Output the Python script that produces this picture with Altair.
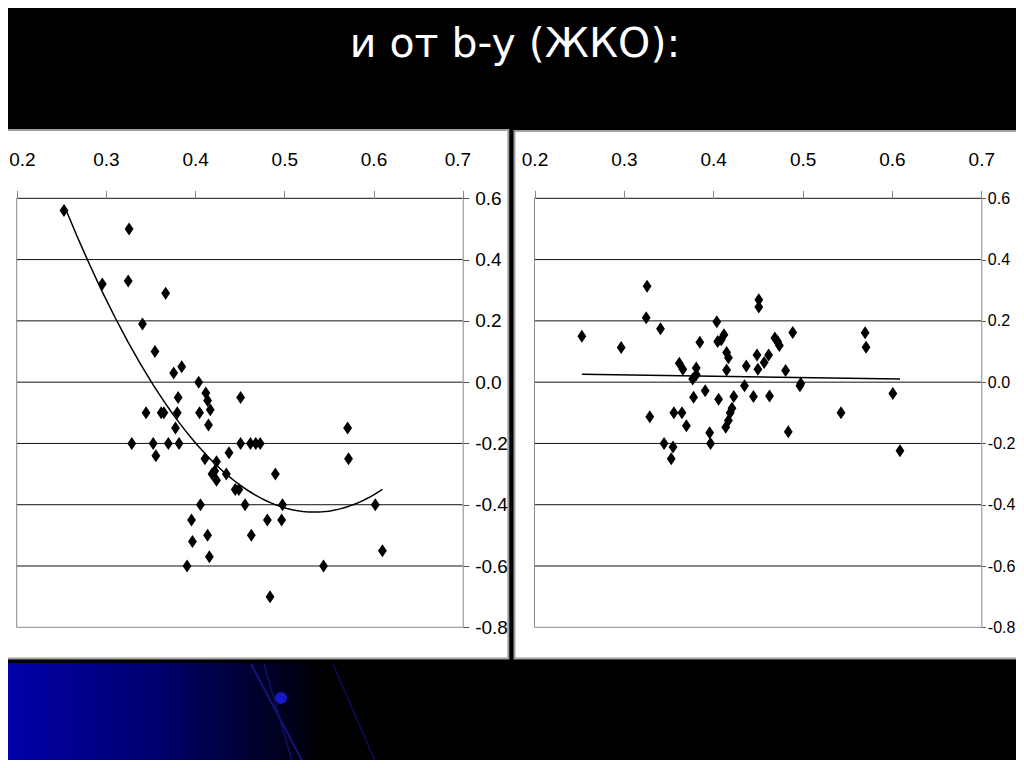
import altair as alt
import pandas as pd

# ---------------- data ----------------
left_x = [0.253, 0.326, 0.296, 0.325, 0.367, 0.341, 0.355, 0.376, 0.385, 0.404,
          0.381, 0.412, 0.414, 0.417, 0.451, 0.345, 0.362, 0.365, 0.380, 0.405,
          0.415, 0.378, 0.329, 0.353, 0.370, 0.382, 0.451, 0.462, 0.468, 0.473,
          0.356, 0.411, 0.424, 0.438, 0.419, 0.422, 0.424, 0.435, 0.445, 0.449,
          0.490, 0.406, 0.456, 0.498, 0.396, 0.481, 0.497, 0.414, 0.463, 0.397,
          0.416, 0.391, 0.484, 0.571, 0.572, 0.602, 0.610, 0.544]
left_y = [0.56, 0.50, 0.32, 0.33, 0.29, 0.19, 0.10, 0.03, 0.05, 0.00,
          -0.05, -0.035, -0.06, -0.09, -0.05, -0.10, -0.10, -0.10, -0.10, -0.10,
          -0.14, -0.15, -0.20, -0.20, -0.20, -0.20, -0.20, -0.20, -0.20, -0.20,
          -0.24, -0.25, -0.26, -0.23, -0.30, -0.29, -0.32, -0.30, -0.35, -0.35,
          -0.30, -0.40, -0.40, -0.40, -0.45, -0.45, -0.45, -0.50, -0.50, -0.52,
          -0.57, -0.60, -0.70, -0.15, -0.25, -0.40, -0.55, -0.60]

right_x = [0.253, 0.297, 0.326, 0.325, 0.341, 0.385, 0.404, 0.405, 0.409, 0.412,
           0.415, 0.417, 0.415, 0.451, 0.451, 0.449, 0.437, 0.457, 0.462, 0.450,
           0.469, 0.472, 0.474, 0.489, 0.481, 0.497, 0.498, 0.362, 0.366, 0.381,
           0.377, 0.381, 0.435, 0.391, 0.378, 0.406, 0.423, 0.421, 0.419, 0.417,
           0.414, 0.445, 0.463, 0.329, 0.356, 0.365, 0.370, 0.396, 0.484, 0.345,
           0.355, 0.397, 0.353, 0.543, 0.601, 0.609, 0.570, 0.571]
right_y = [0.150, 0.113, 0.313, 0.210, 0.174, 0.130, 0.197, 0.133, 0.138, 0.155,
           0.097, 0.080, 0.040, 0.269, 0.245, 0.089, 0.053, 0.064, 0.089, 0.042,
           0.144, 0.133, 0.120, 0.162, 0.038, -0.012, -0.004, 0.062, 0.042, 0.046,
           0.010, 0.024, -0.012, -0.028, -0.049, -0.056, -0.047, -0.085, -0.100, -0.125,
           -0.147, -0.047, -0.045, -0.113, -0.100, -0.100, -0.142, -0.165, -0.162, -0.200,
           -0.212, -0.200, -0.250, -0.100, -0.037, -0.224, 0.161, 0.114]

x_ticks = [0.2, 0.3, 0.4, 0.5, 0.6, 0.7]
y_ticks = [-0.8, -0.6, -0.4, -0.2, 0.0, 0.2, 0.4, 0.6]
title_text = "и от b-y (ЖКО):"

# ---------------- layout / styling ----------------
W, H = 1008, 752                     # whole slide (page minus 8px margin)
PLOT_TOP, PLOT_BOTTOM = 190.3, 619.3
LEFT_RANGE = [8.7, 454.7]
RIGHT_RANGE = [526.5, 973.3]
LABEL_FONT = "Liberation Sans Narrow, Liberation Sans, Arial"
DIAMOND = "M0,-1L0.68,0L0,1L-0.68,0Z"
one = pd.DataFrame({"k": [0]})
neg_label = "datum.value < 0 ? '-' + format(-datum.value, '.1f') : format(datum.value, '.1f')"


def panel(xs, ys, method, order, xrange, x_flush, y_size, y_pad, y_tick):
    df = pd.DataFrame({"x": xs, "y": ys})
    grid_df = pd.DataFrame({"v": y_ticks, "x0": x_ticks[0], "x1": x_ticks[-1]})
    border_df = pd.DataFrame({"bx": [x_ticks[0]], "b0": [y_ticks[0]], "b1": [y_ticks[-1]]})
    xscale = alt.Scale(domain=[x_ticks[0], x_ticks[-1]], range=xrange, nice=False, zero=False)
    yscale = alt.Scale(domain=[y_ticks[0], y_ticks[-1]], range=[PLOT_BOTTOM, PLOT_TOP],
                       nice=False, zero=False)
    xaxis_kw = dict(orient="top", offset=-PLOT_TOP, values=x_ticks, format=".1f",
                    title=None, grid=False, domain=False, ticks=True,
                    tickColor="#888888", tickSize=8, labelPadding=21,
                    labelFont=LABEL_FONT, labelFontSize=19, labelColor="black",
                    zindex=1)
    if x_flush:
        xaxis_kw.update(labelFlush=True, labelFlushOffset=8)
    else:
        xaxis_kw.update(labelFlush=False)
    xaxis = alt.Axis(**xaxis_kw)
    yaxis = alt.Axis(orient="right", offset=xrange[1] - W, values=y_ticks,
                     labelExpr=neg_label, title=None, grid=False,
                     domain=True, domainColor="#888888", tickColor="#555555",
                     tickSize=y_tick, labelPadding=y_pad, labelFont=LABEL_FONT,
                     labelFontSize=y_size, labelColor="black", labelFlush=False,
                     zindex=1)
    grid = alt.Chart(grid_df).mark_rule(strokeWidth=1).encode(
        x=alt.X("x0:Q", scale=xscale, axis=xaxis),
        x2="x1:Q",
        y=alt.Y("v:Q", scale=yscale, axis=yaxis),
        color=alt.condition(alt.datum.v < -0.7, alt.value("#888888"), alt.value("#111111")))
    border = alt.Chart(border_df).mark_rule(color="#888888", strokeWidth=1).encode(
        x=alt.X("bx:Q", scale=xscale, axis=xaxis),
        y=alt.Y("b0:Q", scale=yscale, axis=yaxis),
        y2="b1:Q")
    pts = alt.Chart(df).mark_point(shape=DIAMOND, filled=True, color="black",
                                   opacity=1, size=169).encode(
        x=alt.X("x:Q", scale=xscale, axis=xaxis),
        y=alt.Y("y:Q", scale=yscale, axis=yaxis))
    reg = alt.Chart(df).transform_regression(
        "x", "y", method=method, order=order).mark_line(
        color="black", strokeWidth=1.5).encode(
        x=alt.X("x:Q", scale=xscale, axis=xaxis),
        y=alt.Y("y:Q", scale=yscale, axis=yaxis))
    return alt.layer(grid, border, pts, reg)


left = panel(left_x, left_y, "poly", 2, LEFT_RANGE, True, 19, 6, 6)
right = panel(right_x, right_y, "linear", 1, RIGHT_RANGE, False, 16, 2, 4)

# ---------------- slide decoration ----------------
def box(x0, x1, y0, y1):
    return alt.Chart(one).mark_rect(fill="white", stroke="#a0a0a0", strokeWidth=2).encode(
        x=alt.value(x0), x2=alt.value(x1), y=alt.value(y0), y2=alt.value(y1))


bg_left = box(-2, 500.3, 122, 650.5)
bg_right = box(506.5, 1014, 123, 650.5)

title = alt.Chart(one).mark_text(
    text=title_text, font="DejaVu Sans", fontSize=41, color="white",
    align="center", baseline="middle").encode(
    x=alt.value(507), y=alt.value(37))

swoosh = alt.Chart(one).mark_rect(
    fill=alt.LinearGradient(
        gradient="linear", x1=0, y1=0, x2=1, y2=0,
        stops=[alt.GradientStop(color="#0000aa", offset=0),
               alt.GradientStop(color="#000070", offset=0.45),
               alt.GradientStop(color="#000000", offset=1)])).encode(
    x=alt.value(0), x2=alt.value(322), y=alt.value(655), y2=alt.value(760))
streak1 = alt.Chart(one).mark_rule(color="#14147a", strokeWidth=2).encode(
    x=alt.value(243), x2=alt.value(298), y=alt.value(656), y2=alt.value(760))
streak2 = alt.Chart(one).mark_rule(color="#101068", strokeWidth=1.5).encode(
    x=alt.value(256), x2=alt.value(286), y=alt.value(656), y2=alt.value(760))
streak3 = alt.Chart(one).mark_rule(color="#0c0c58", strokeWidth=1.5).encode(
    x=alt.value(325), x2=alt.value(370), y=alt.value(656), y2=alt.value(760))
dot = alt.Chart(one).mark_point(filled=True, color="#1818c8", opacity=1, size=144,
                                shape="circle").encode(
    x=alt.value(273), y=alt.value(690))

chart = alt.layer(
    swoosh, streak1, streak2, streak3, dot, bg_left, bg_right, title, left, right
).resolve_scale(
    x="independent", y="independent"
).resolve_axis(
    x="independent", y="independent"
).properties(
    width=W, height=H, padding=0, background="black",
    autosize=alt.AutoSizeParams(type="none")
).configure_view(strokeWidth=0)

chart.save("out.html", embed_options={"renderer": "svg", "actions": False})
